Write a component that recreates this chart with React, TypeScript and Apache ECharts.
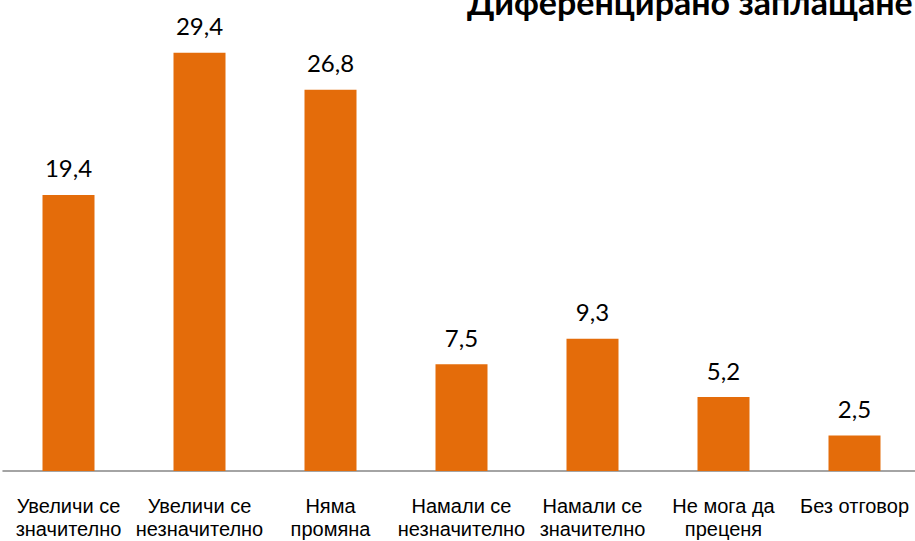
import React, { useEffect, useRef } from "react";
import * as echarts from "echarts";

const categories = [
  "Увеличи се\nзначително",
  "Увеличи се\nнезначително",
  "Няма\nпромяна",
  "Намали се\nнезначително",
  "Намали се\nзначително",
  "Не мога да\nпреценя",
  "Без отговор",
];
const values = [19.4, 29.4, 26.8, 7.5, 9.3, 5.2, 2.5];
const titleText = "Диференцирано заплащане";

export default function App() {
  const ref = useRef<HTMLDivElement>(null);
  useEffect(() => {
    if (!ref.current) return;
    const chart = echarts.init(ref.current, undefined, { renderer: "svg" });
    chart.setOption({
      animation: false,
      backgroundColor: "#ffffff",
      title: {
        text: titleText,
        left: 462,
        top: -21,
        textStyle: {
          fontFamily: "Lato",
          fontWeight: "bold",
          fontSize: 34,
          color: "#000000",
        },
      },
      grid: {
        left: 3,
        right: -5,
        top: 1.5,
        bottom: 70,
        containLabel: false,
        outerBoundsMode: "none",
      },
      xAxis: {
        type: "category",
        data: categories,
        axisLine: { show: true, lineStyle: { color: "#868686", width: 1.5 } },
        axisTick: { show: false },
        axisLabel: {
          interval: 0,
          margin: 23,
          fontFamily: "Liberation Sans",
          fontSize: 20,
          lineHeight: 23,
          color: "#000000",
        },
      },
      yAxis: {
        type: "value",
        min: 0,
        max: 33,
        show: false,
        splitLine: { show: false },
      },
      series: [
        {
          type: "bar",
          data: values,
          barWidth: 52,
          itemStyle: { color: "#E46C0A" },
          label: {
            show: true,
            position: "top",
            distance: 15,
            fontFamily: "Lato",
            fontSize: 24,
            color: "#000000",
            formatter: (p: any) => String(p.value).replace(".", ","),
          },
        },
      ],
    });
    return () => chart.dispose();
  }, []);
  return (
    <div
      ref={ref}
      style={{ position: "fixed", left: 0, top: 0, width: 915, height: 541, overflow: "hidden" }}
    />
  );
}
